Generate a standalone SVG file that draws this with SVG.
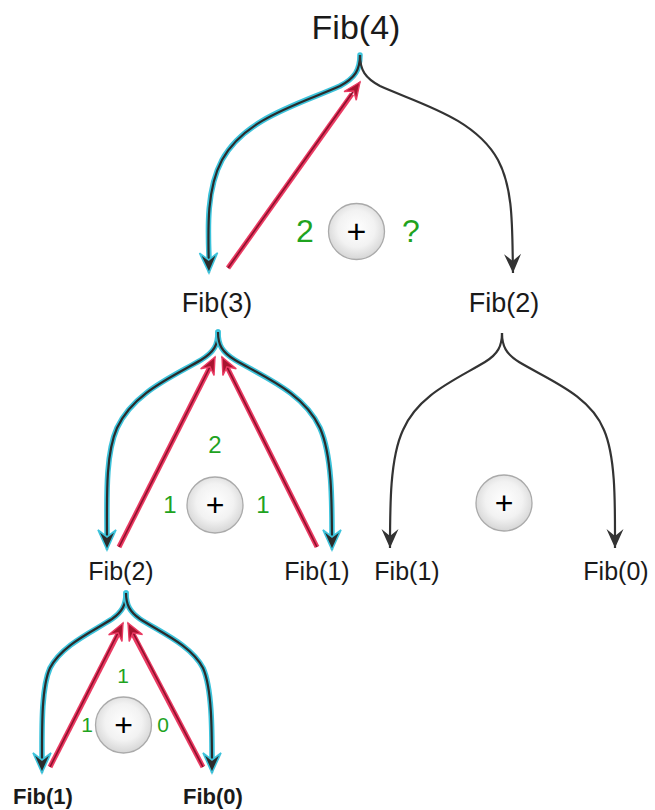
<svg xmlns="http://www.w3.org/2000/svg" width="655" height="810" viewBox="0 0 655 810">
<style>
.lbl{font-family:"Liberation Sans",Arial,sans-serif;fill:#1a1a1a;text-anchor:middle}
.num{font-family:"Liberation Sans",Arial,sans-serif;fill:#1fa31f;text-anchor:middle}
.plus{font-family:"Liberation Sans",Arial,sans-serif;fill:#000;text-anchor:middle}
.glow{fill:none;stroke:#3cc3db;stroke-width:5.5;stroke-linecap:round}
.core{fill:none;stroke:#2b2b2b;stroke-width:2.2;marker-end:url(#ab)}
.plain{fill:none;stroke:#333;stroke-width:2.2;marker-end:url(#ak)}
.rglow{fill:none;stroke:#ea3a62;stroke-width:5;stroke-linecap:butt}
.rcore{fill:none;stroke:#8e0f2c;stroke-width:1.6;marker-end:url(#ar)}
.sum{fill:url(#cg);stroke:#aaa;stroke-width:1.3}
</style>
<defs>
<radialGradient id="cg" cx="0.5" cy="0.45" r="0.55">
<stop offset="0" stop-color="#ffffff"/>
<stop offset="0.6" stop-color="#f2f2f2"/>
<stop offset="1" stop-color="#d6d6d6"/>
</radialGradient>
<marker id="ab" markerUnits="userSpaceOnUse" markerWidth="30" markerHeight="30" viewBox="-24 -15 30 30" refX="0" refY="0" orient="auto" overflow="visible">
<path d="M0,0 L-20,-9 L-13,0 L-20,9 Z" fill="#2b2b2b" stroke="#3cc3db" stroke-width="1.6" stroke-linejoin="miter"/>
</marker>
<marker id="ak" markerUnits="userSpaceOnUse" markerWidth="30" markerHeight="30" viewBox="-24 -15 30 30" refX="0" refY="0" orient="auto" overflow="visible">
<path d="M0,0 L-19,-8.5 L-12,0 L-19,8.5 Z" fill="#333"/>
</marker>
<marker id="ar" markerUnits="userSpaceOnUse" markerWidth="30" markerHeight="30" viewBox="-24 -15 30 30" refX="0" refY="0" orient="auto" overflow="visible">
<path d="M0,0 L-17,-7.5 L-11,0 L-17,7.5 Z" fill="#a8142f" stroke="#ea3a62" stroke-width="1.4"/>
</marker>
</defs>
<rect width="655" height="810" fill="#fff"/>

<g id="connectors">
<path class="glow" d="M360,55 C360,70 355,78 340,86 C300,104 245,118 222,160 C206,190 208,230 209,258"/>
<path class="core" d="M360,55 C360,70 355,78 340,86 C300,104 245,118 222,160 C206,190 208,230 209,273"/>
<path class="plain" d="M360,55 C360,70 365,78 380,86 C420,104 475,118 498,160 C514,190 512,230 513,273"/>
<path class="rglow" d="M228,268 L352,94"/>
<path class="rcore" d="M228,268 L360,82"/>
<path class="glow" d="M218,332 C218,345 214,352 201,360 C172,377 133,393 117,428 C105,455 107,500 107,536"/>
<path class="core" d="M218,332 C218,345 214,352 201,360 C172,377 133,393 117,428 C105,455 107,500 107,550"/>
<path class="glow" d="M218,332 C218,345 222,352 235,360 C264,377 304,393 320,428 C332,455 332,500 332,536"/>
<path class="core" d="M218,332 C218,345 222,352 235,360 C264,377 304,393 320,428 C332,455 332,500 332,550"/>
<path class="rglow" d="M119,547 L210,367"/>
<path class="rcore" d="M119,547 L215,357"/>
<path class="rglow" d="M317,547 L227,367"/>
<path class="rcore" d="M317,547 L222,357"/>
<path class="plain" d="M502,333 C502,346 498,354 485,362 C455,380 418,395 403,430 C390,458 390,505 390,548"/>
<path class="plain" d="M502,333 C502,346 506,354 519,362 C549,380 590,395 604,430 C616,458 615,505 615,548"/>
<path class="glow" d="M126,593 C126,605 122,612 112,619 C92,632 62,645 50,668 C41,688 42,730 42,759"/>
<path class="core" d="M126,593 C126,605 122,612 112,619 C92,632 62,645 50,668 C41,688 42,730 42,773"/>
<path class="glow" d="M126,593 C126,605 130,612 140,619 C160,632 191,645 203,668 C212,688 212,730 212,759"/>
<path class="core" d="M126,593 C126,605 130,612 140,619 C160,632 191,645 203,668 C212,688 212,730 212,773"/>
<path class="rglow" d="M50,767 L118,634"/>
<path class="rcore" d="M50,767 L123,623"/>
<path class="rglow" d="M203,767 L133,634"/>
<path class="rcore" d="M203,767 L128,623"/>
</g>

<g id="fib4"><text class="lbl" x="356" y="39" font-size="34">Fib(4)</text></g>
<g id="fib3"><text class="lbl" x="217" y="312" font-size="27">Fib(3)</text></g>
<g id="fib2-right"><text class="lbl" x="504" y="312" font-size="27">Fib(2)</text></g>
<g id="fib2-left"><text class="lbl" x="121" y="580" font-size="25">Fib(2)</text></g>
<g id="fib1-mid"><text class="lbl" x="317" y="580" font-size="25">Fib(1)</text></g>
<g id="fib1-right"><text class="lbl" x="407" y="580" font-size="25">Fib(1)</text></g>
<g id="fib0-right"><text class="lbl" x="616" y="580" font-size="25">Fib(0)</text></g>
<g id="fib1-bottom"><text class="lbl" x="43" y="804" font-size="22" font-weight="bold">Fib(1)</text></g>
<g id="fib0-bottom"><text class="lbl" x="213" y="804" font-size="22" font-weight="bold">Fib(0)</text></g>

<g id="sum-fib4">
<circle class="sum" cx="356.5" cy="231.5" r="28"/>
<text class="plus" x="356.5" y="243" font-size="34">+</text>
<text class="num" x="305" y="242" font-size="32">2</text>
<text class="num" x="411" y="242" font-size="32">?</text>
</g>
<g id="sum-fib3">
<circle class="sum" cx="215" cy="505" r="28"/>
<text class="plus" x="215" y="516" font-size="32">+</text>
<text class="num" x="215" y="453" font-size="24">2</text>
<text class="num" x="170" y="513" font-size="24">1</text>
<text class="num" x="263" y="513" font-size="24">1</text>
</g>
<g id="sum-fib2-right">
<circle class="sum" cx="504" cy="503" r="28"/>
<text class="plus" x="504" y="514" font-size="32">+</text>
</g>
<g id="sum-fib2-left">
<circle class="sum" cx="123.5" cy="725" r="28"/>
<text class="plus" x="123.5" y="736" font-size="32">+</text>
<text class="num" x="123" y="683" font-size="21">1</text>
<text class="num" x="87" y="732" font-size="21">1</text>
<text class="num" x="163" y="732" font-size="21">0</text>
</g>
</svg>
